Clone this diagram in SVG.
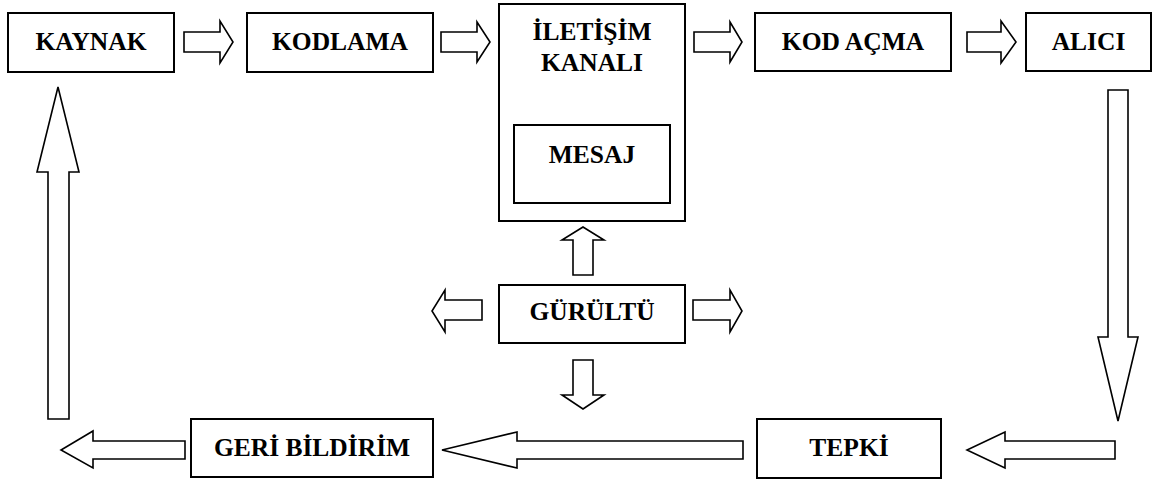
<svg xmlns="http://www.w3.org/2000/svg" width="1153" height="481" viewBox="0 0 1153 481">
<style>
.box{fill:#fff;stroke:#000;stroke-width:2}
.arr{fill:#fff;stroke:#000;stroke-width:1.6;stroke-linejoin:miter}
.t{font-family:"Liberation Serif","Times New Roman",serif;font-weight:bold;font-size:25.5px;text-anchor:middle;fill:#000}
</style>
<rect width="1153" height="481" fill="#fff"/>
<g id="connectors">
<polygon class="arr" points="184,32 220,32 220,21 233,42 220,63 220,52 184,52"/>
<polygon class="arr" points="441,32 477,32 477,22 490,42 477,62 477,52 441,52"/>
<polygon class="arr" points="694,32 730,32 730,22 742,42 730,62 730,52 694,52"/>
<polygon class="arr" points="967,32 1001,32 1001,21 1016,42 1001,63 1001,52 967,52"/>
<polygon class="arr" points="1108,90 1128,90 1128,337 1138,337 1118,421 1098,337 1108,337"/>
<polygon class="arr" points="1115,441 1115,459 1005,459 1005,468 967,450 1005,432 1005,441"/>
<polygon class="arr" points="743,441 743,459 517,459 517,468 442,450 517,432 517,441"/>
<polygon class="arr" points="185,441 185,459 93,459 93,468 61,450 93,431 93,441"/>
<polygon class="arr" points="48,419 69,419 69,172 79,172 58,87 37,172 48,172"/>
<polygon class="arr" points="573,275 593,275 593,240 604,240 583,227 562,240 573,240"/>
<polygon class="arr" points="573,360 593,360 593,395 604,395 583,409 562,395 573,395"/>
<polygon class="arr" points="482,300 482,320 445,320 445,332 432,311 445,290 445,300"/>
<polygon class="arr" points="693,300 730,300 730,290 742,311 730,332 730,320 693,320"/>
</g>
<g id="kaynak"><rect class="box" x="8" y="13" width="166" height="59"/><text class="t" x="91" y="50">KAYNAK</text></g>
<g id="kodlama"><rect class="box" x="247" y="13" width="186" height="59"/><text class="t" x="340" y="50">KODLAMA</text></g>
<g id="kanal"><rect class="box" x="499" y="4" width="186" height="217"/><text class="t" x="592" y="40">İLETİŞİM</text><text class="t" x="592" y="71">KANALI</text></g>
<g id="mesaj"><rect class="box" x="514" y="125" width="156" height="78"/><text class="t" x="592" y="163">MESAJ</text></g>
<g id="kodacma"><rect class="box" x="755" y="13" width="196" height="58"/><text class="t" x="853" y="50">KOD AÇMA</text></g>
<g id="alici"><rect class="box" x="1026" y="13" width="125" height="58"/><text class="t" x="1088.5" y="50">ALICI</text></g>
<g id="gurultu"><rect class="box" x="499" y="285" width="186" height="58"/><text class="t" x="592" y="320">GÜRÜLTÜ</text></g>
<g id="geribildirim"><rect class="box" x="191" y="419" width="242" height="58"/><text class="t" x="312" y="456">GERİ BİLDİRİM</text></g>
<g id="tepki"><rect class="box" x="757" y="419" width="184" height="59"/><text class="t" x="849" y="456">TEPKİ</text></g>
</svg>
